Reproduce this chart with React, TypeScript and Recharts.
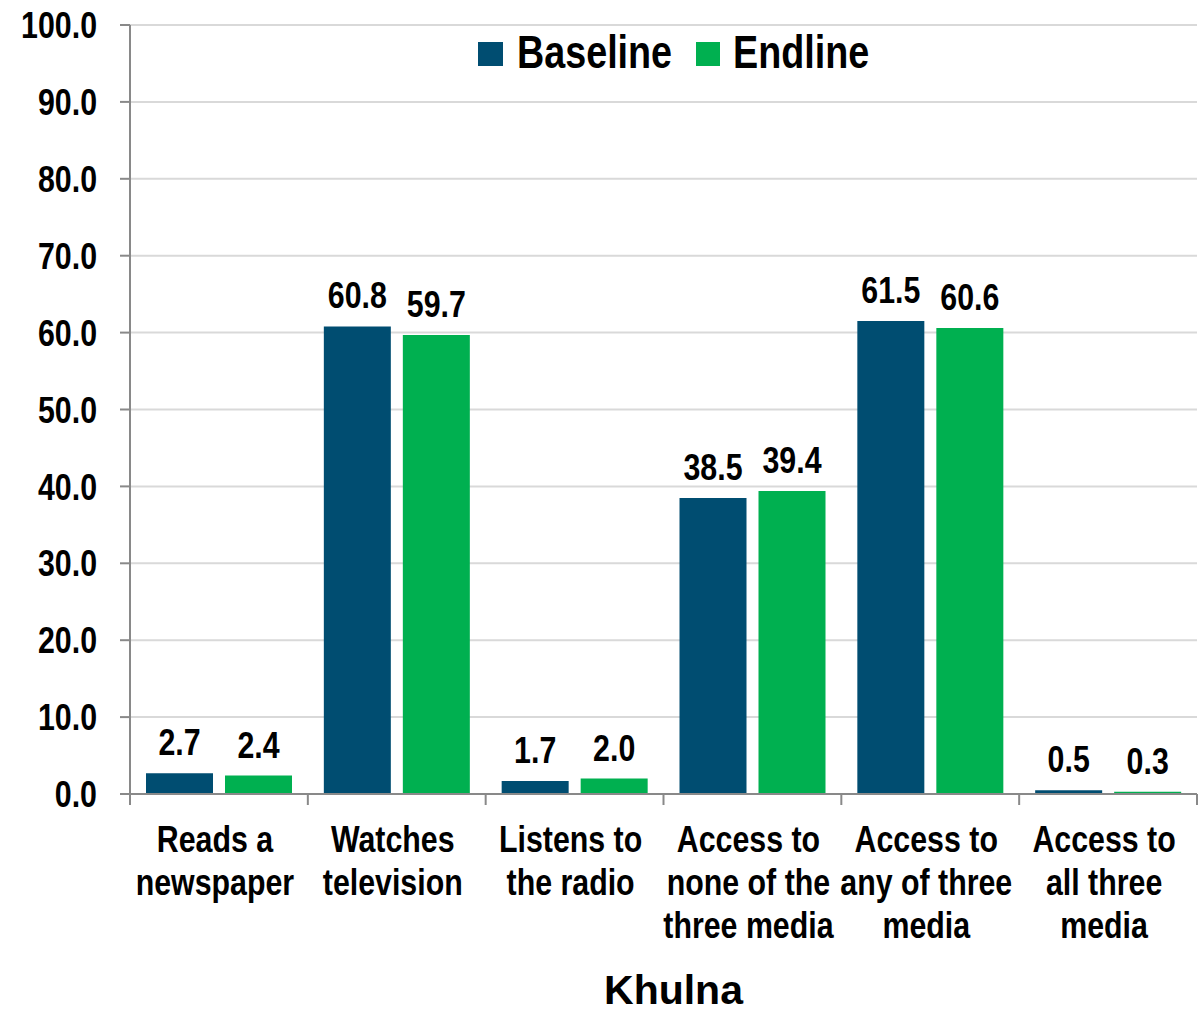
import React from 'react';
import { BarChart, Bar, XAxis, YAxis, CartesianGrid, LabelList, Legend } from 'recharts';

const categories = [
  'Reads a\nnewspaper',
  'Watches\ntelevision',
  'Listens to\nthe radio',
  'Access to\nnone of the\nthree media',
  'Access to\nany of three\nmedia',
  'Access to\nall three\nmedia',
];
const baseline = [2.7, 60.8, 1.7, 38.5, 61.5, 0.5];
const endline = [2.4, 59.7, 2.0, 39.4, 60.6, 0.3];
const yTicks = [0, 10, 20, 30, 40, 50, 60, 70, 80, 90, 100];
const seriesNames = ['Baseline', 'Endline'];
const xTitle = 'Khulna';

const data = categories.map((c, i) => ({ category: c, baseline: baseline[i], endline: endline[i] }));

const FONT = '"Liberation Sans", Arial, sans-serif';
const NARROW_SCALE = 0.82;
const BLUE = '#004D71';
const GREEN = '#00B050';
const AXIS = '#898989';

const NarrowText = ({ x, y, anchor = 'middle', size = 37, dy = 0, children }: any) => (
  <text
    transform={`translate(${x} ${y}) scale(${NARROW_SCALE} 1)`}
    x={0}
    y={0}
    dy={dy}
    textAnchor={anchor}
    fontFamily={FONT}
    fontWeight="bold"
    fontSize={size}
    fill="#000"
  >
    {children}
  </text>
);

const CategoryTick = (props: any) => {
  const { x, y, payload, index } = props;
  const half = payload && typeof payload.offset === 'number' && payload.offset > 0 ? payload.offset : 88.9;
  const lines = String(payload.value).split('\n');
  const isLast = index === categories.length - 1;
  return (
    <g>
      <line x1={x - half} x2={x - half} y1={y - 10} y2={y + 1} stroke={AXIS} strokeWidth={2} />
      {isLast && <line x1={x + half} x2={x + half} y1={y - 10} y2={y + 1} stroke={AXIS} strokeWidth={2} />}
      {lines.map((l, i) => (
        <NarrowText key={i} x={x - 4} y={y + 48 + i * 43} anchor="middle">{l}</NarrowText>
      ))}
    </g>
  );
};

const ValueTick = (props: any) => {
  const { x, y, payload } = props;
  return <NarrowText x={x} y={y} anchor="end" dy="0.355em">{Number(payload.value).toFixed(1)}</NarrowText>;
};

const BarValue = (props: any) => {
  const { x, y, width, value } = props;
  return <NarrowText x={Number(x) + Number(width) / 2} y={Number(y) - 18} anchor="middle">{Number(value).toFixed(1)}</NarrowText>;
};

const LegendContent = () => (
  <svg width={420} height={50} style={{ display: 'block', overflow: 'visible' }}>
    <rect x={0} y={13} width={25} height={24} fill={BLUE} />
    <NarrowText x={39} y={39} anchor="start" size={46}>{seriesNames[0]}</NarrowText>
    <rect x={218} y={13} width={24} height={24} fill={GREEN} />
    <NarrowText x={255} y={39} anchor="start" size={46}>{seriesNames[1]}</NarrowText>
  </svg>
);

const TitleLabel = () => (
  <text x={673.5} y={1004} textAnchor="middle" fontFamily={FONT} fontWeight="bold" fontSize={41} fill="#000">{xTitle}</text>
);

export default function App() {
  return (
    <div style={{ position: 'absolute', left: 0, top: 0, background: '#fff' }}>
      <BarChart width={1201} height={1011} data={data} margin={{ top: 25, right: 4, bottom: 0, left: 0 }} barSize={67} barGap={12}>
        <CartesianGrid vertical={false} stroke="#D9D9D9" strokeWidth={2} />
        <XAxis
          dataKey="category"
          height={217}
          interval={0}
          tickLine={false}
          tickSize={10}
          tickMargin={0}
          axisLine={{ stroke: AXIS, strokeWidth: 2 }}
          tick={<CategoryTick />}
          label={<TitleLabel />}
        />
        <YAxis
          width={130}
          domain={[0, 100]}
          ticks={yTicks}
          interval={0}
          tickSize={10}
          tickMargin={23}
          tickLine={{ stroke: AXIS, strokeWidth: 2 }}
          axisLine={{ stroke: AXIS, strokeWidth: 2 }}
          tick={<ValueTick />}
        />
        <Legend layout="horizontal" verticalAlign="middle" align="center" content={<LegendContent />} wrapperStyle={{ top: 29, left: 478, width: 420, height: 50 }} />
        <Bar dataKey="baseline" name={seriesNames[0]} fill={BLUE} isAnimationActive={false}>
          <LabelList dataKey="baseline" position="top" content={<BarValue />} />
        </Bar>
        <Bar dataKey="endline" name={seriesNames[1]} fill={GREEN} isAnimationActive={false}>
          <LabelList dataKey="endline" position="top" content={<BarValue />} />
        </Bar>
      </BarChart>
    </div>
  );
}
